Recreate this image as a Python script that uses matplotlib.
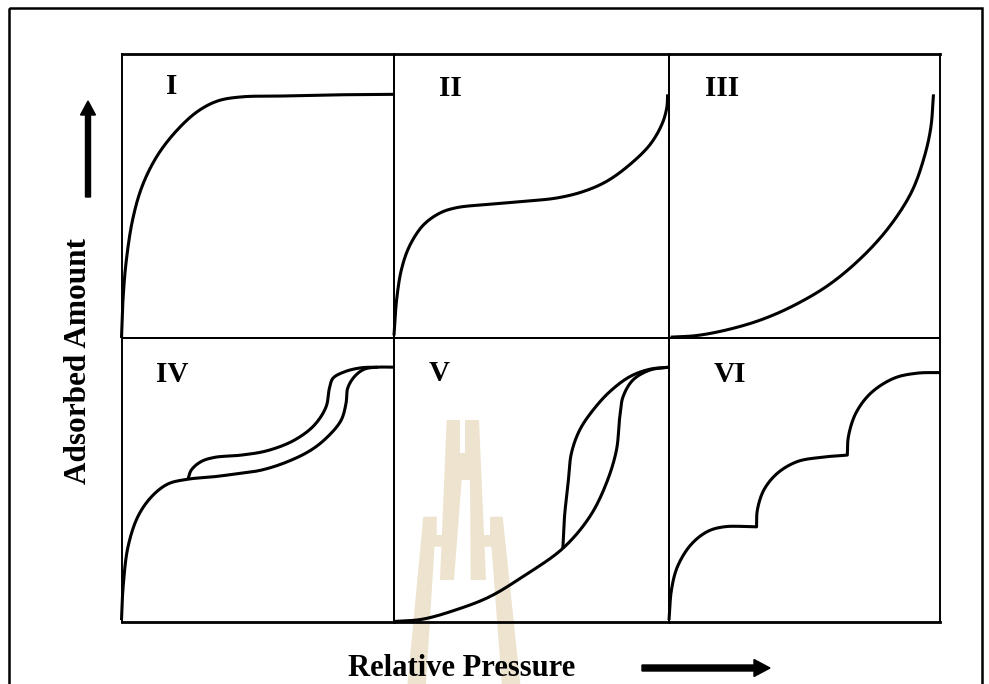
import numpy as np
import matplotlib
matplotlib.use("Agg")
import matplotlib.pyplot as plt
from matplotlib.patches import Polygon, Rectangle, FancyArrow

# ---------------- data (relative pressure 0..1, adsorbed amount 0..1) ----------------
panel_labels = ["I", "II", "III", "IV", "V", "VI"]
label_x = [0.183, 0.206, 0.197, 0.186, 0.164, 0.225]
label_y = [0.885, 0.878, 0.878, 0.872, 0.874, 0.872]

type1_p = [0.0, 0.005, 0.017, 0.042, 0.078, 0.134, 0.207, 0.281, 0.354, 0.44, 0.587, 0.771, 1.0]
type1_a = [0.0, 0.127, 0.268, 0.422, 0.540, 0.646, 0.735, 0.799, 0.835, 0.849, 0.852, 0.856, 0.858]

type2_p = [0.0, 0.01, 0.028, 0.058, 0.107, 0.167, 0.228, 0.349, 0.47, 0.592, 0.689, 0.774, 0.858, 0.931, 0.974, 0.992, 0.995]
type2_a = [0.009, 0.139, 0.245, 0.327, 0.398, 0.44, 0.459, 0.471, 0.481, 0.493, 0.516, 0.552, 0.611, 0.681, 0.752, 0.811, 0.858]

type3_p = [0.006, 0.105, 0.228, 0.351, 0.474, 0.597, 0.72, 0.818, 0.896, 0.941, 0.966, 0.976]
type3_a = [0.003, 0.009, 0.032, 0.068, 0.121, 0.192, 0.292, 0.398, 0.516, 0.634, 0.74, 0.858]

type4_ads_p = [0.0, 0.006, 0.024, 0.06, 0.11, 0.17, 0.244, 0.342, 0.415, 0.513, 0.61, 0.696, 0.757, 0.806, 0.824, 0.83, 0.855, 0.891, 0.94, 1.0]
type4_ads_a = [0.005, 0.123, 0.264, 0.37, 0.44, 0.485, 0.502, 0.511, 0.52, 0.534, 0.564, 0.605, 0.652, 0.71, 0.77, 0.823, 0.864, 0.89, 0.897, 0.897]
type4_des_p = [0.244, 0.256, 0.292, 0.342, 0.44, 0.537, 0.635, 0.708, 0.751, 0.763, 0.776, 0.819, 0.88, 0.94]
type4_des_a = [0.502, 0.534, 0.564, 0.579, 0.587, 0.603, 0.64, 0.693, 0.758, 0.823, 0.858, 0.881, 0.895, 0.897]

type5_ads_p = [0.0, 0.103, 0.225, 0.347, 0.468, 0.614, 0.712, 0.772, 0.809, 0.821, 0.833, 0.869, 0.931, 1.0]
type5_ads_a = [0.0, 0.008, 0.041, 0.087, 0.158, 0.258, 0.37, 0.487, 0.605, 0.722, 0.793, 0.852, 0.887, 0.897]
type5_des_p = [0.614, 0.620, 0.633, 0.645, 0.675, 0.724, 0.785, 0.858, 0.931, 1.0]
type5_des_a = [0.258, 0.37, 0.487, 0.593, 0.675, 0.746, 0.811, 0.864, 0.89, 0.897]

type6_p = [0.0, 0.009, 0.031, 0.08, 0.141, 0.203, 0.323, 0.326, 0.35, 0.4, 0.473, 0.56, 0.658, 0.662, 0.689, 0.744, 0.83, 0.916, 1.0]
type6_a = [0.005, 0.111, 0.193, 0.27, 0.317, 0.334, 0.334, 0.393, 0.464, 0.523, 0.564, 0.579, 0.587, 0.652, 0.734, 0.805, 0.858, 0.876, 0.878]
type6_step_ends = [6, 12]   # indices of the sharp step corners

x_title = "Relative Pressure"
y_title = "Adsorbed Amount"


def smooth(px, py, n=16):
    """Centripetal Catmull-Rom rendering through the given points."""
    P = np.column_stack([px, py]).astype(float)
    if len(P) < 3:
        return P[:, 0], P[:, 1]
    P = np.vstack([2 * P[0] - P[1], P, 2 * P[-1] - P[-2]])
    out = []
    for i in range(1, len(P) - 2):
        p0, p1, p2, p3 = P[i - 1], P[i], P[i + 1], P[i + 2]
        def tj(ti, a, b):
            return ti + max(np.linalg.norm(b - a), 1e-6) ** 0.5
        t0 = 0.0
        t1 = tj(t0, p0, p1)
        t2 = tj(t1, p1, p2)
        t3 = tj(t2, p2, p3)
        t = np.linspace(t1, t2, n)[:, None]
        A1 = (t1 - t) / (t1 - t0) * p0 + (t - t0) / (t1 - t0) * p1
        A2 = (t2 - t) / (t2 - t1) * p1 + (t - t1) / (t2 - t1) * p2
        A3 = (t3 - t) / (t3 - t2) * p2 + (t - t2) / (t3 - t2) * p3
        B1 = (t2 - t) / (t2 - t0) * A1 + (t - t0) / (t2 - t0) * A2
        B2 = (t3 - t) / (t3 - t1) * A2 + (t - t1) / (t3 - t1) * A3
        C = (t2 - t) / (t2 - t1) * B1 + (t - t1) / (t2 - t1) * B2
        out.append(C if i == 1 else C[1:])
    C = np.vstack(out)
    return C[:, 0], C[:, 1]


def smooth_pieces(px, py, breaks):
    xs, ys = [], []
    idx = [0] + list(breaks) + [len(px) - 1]
    for a, b in zip(idx[:-1], idx[1:]):
        sx, sy = smooth(px[a:b + 1], py[a:b + 1])
        if xs:
            sx, sy = sx[1:], sy[1:]
        xs.extend(sx)
        ys.extend(sy)
    return np.array(xs), np.array(ys)


W, H = 989, 684
fig = plt.figure(figsize=(W / 100, H / 100), dpi=100)
fig.patch.set_facecolor("white")

# background axes in pixel coordinates
bg = fig.add_axes([0, 0, 1, 1], zorder=0)
bg.set_xlim(0, W)
bg.set_ylim(H, 0)
bg.axis("off")

# outer frame
bg.add_patch(Rectangle((9, 8), 973, 720, fill=False, lw=1.8, ec="black"))

# faint watermark
wm = "#ede3cf"
wm_shapes = [
    [(446.7, 420), (460, 420), (460, 453), (465, 453), (465, 420), (479, 420),
     (486, 580), (470.7, 580), (470, 480), (461.7, 480), (454, 580), (440, 580)],
    [(423.3, 516.7), (436.7, 516.7), (436.7, 535), (446, 535), (445, 546.7),
     (434.5, 546.7), (425, 700), (406, 700)],
    [(490, 516.7), (502.7, 516.7), (522, 700), (503, 700), (491.5, 546.7),
     (484, 546.7), (483, 535), (490, 535)],
]
for s in wm_shapes:
    bg.add_patch(Polygon(s, closed=True, fc=wm, ec="none", zorder=0))

# arrows
bg.add_patch(FancyArrow(88, 197, 0, -82, width=5, head_width=15, head_length=14,
                        length_includes_head=False, fc="black", ec="black"))
bg.add_patch(FancyArrow(642, 668, 112, 0, width=6, head_width=17, head_length=16,
                        length_includes_head=False, fc="black", ec="black"))

font = dict(family="Liberation Serif", weight="bold")
bg.text(462, 668, x_title, ha="center", va="center", fontsize=22, **font)
bg.text(79, 361, y_title, ha="center", va="center", rotation=90, fontsize=22.5, **font)

# panels
col_edges = [121.5, 394, 669, 940]
row_edges = [54, 338, 621.5]

curves = [
    [(type1_p, type1_a, [])],
    [(type2_p, type2_a, [])],
    [(type3_p, type3_a, [])],
    [(type4_ads_p, type4_ads_a, []), (type4_des_p, type4_des_a, [])],
    [(type5_ads_p, type5_ads_a, []), (type5_des_p, type5_des_a, [])],
    [(type6_p, type6_a, type6_step_ends)],
]

for k in range(6):
    r, c = divmod(k, 3)
    x0, x1 = col_edges[c], col_edges[c + 1]
    y0, y1 = row_edges[r], row_edges[r + 1]
    ax = fig.add_axes([x0 / W, 1 - y1 / H, (x1 - x0) / W, (y1 - y0) / H], zorder=1)
    ax.set_facecolor("none")
    ax.set_xlim(0, 1)
    ax.set_ylim(0, 1)
    ax.set_xticks([])
    ax.set_yticks([])
    for side, sp in ax.spines.items():
        sp.set_linewidth(1.4)
        sp.set_color("black")
    if r == 0:
        ax.spines["top"].set_linewidth(2.0)
    if r == 1:
        ax.spines["bottom"].set_linewidth(2.0)
    for px, py, br in curves[k]:
        sx, sy = smooth_pieces(px, py, br)
        ax.plot(sx, sy, color="black", lw=2.2, solid_capstyle="butt",
                solid_joinstyle="round", clip_on=False)
    ax.text(label_x[k], label_y[k], panel_labels[k], ha="center", va="center",
            fontsize=21, **font)

fig.savefig("out.png", dpi=100)
